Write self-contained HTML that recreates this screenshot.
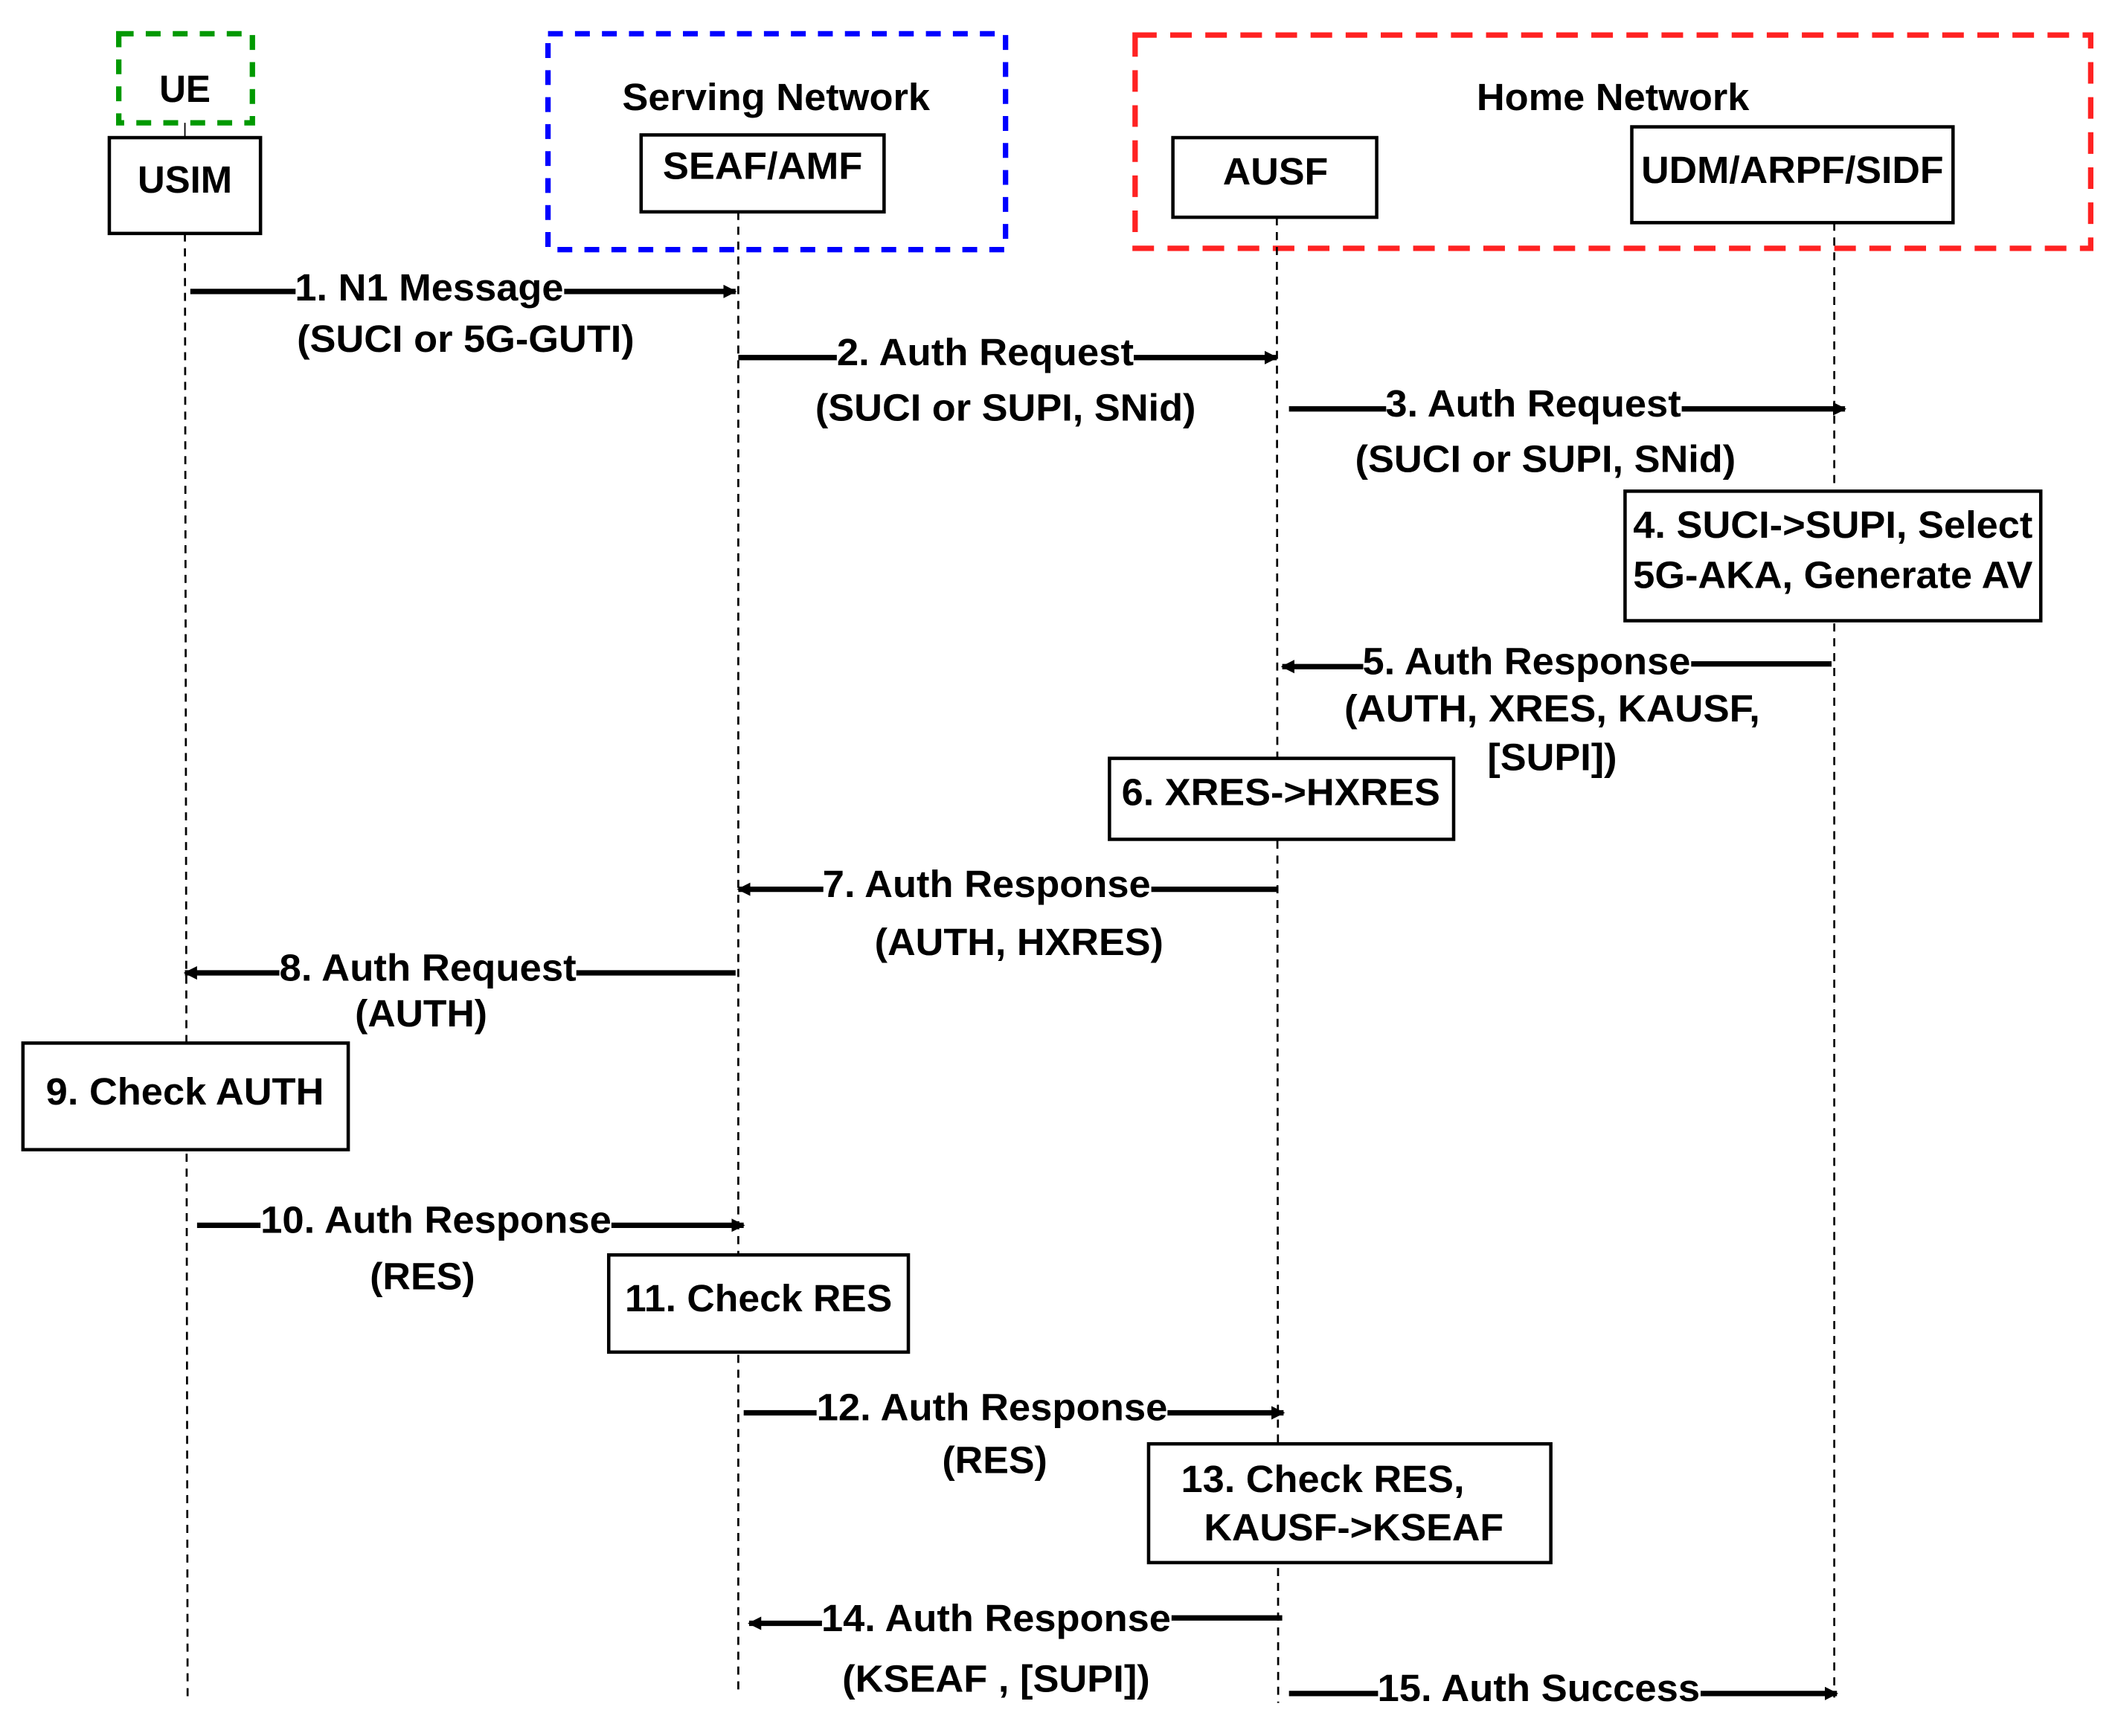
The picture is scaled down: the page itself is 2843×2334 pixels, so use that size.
<!DOCTYPE html>
<html><head><meta charset="utf-8"><style>
html,body{margin:0;padding:0;background:#fff;}
svg{display:block;}
text{font-family:"Liberation Sans",Arial,sans-serif;font-weight:bold;font-size:28px;fill:#000;dominant-baseline:central;text-anchor:middle;}
</style></head><body>
<svg width="2843" height="2334" viewBox="0 0 1567 1286.5" preserveAspectRatio="none" xmlns="http://www.w3.org/2000/svg">
<defs>
<marker id="a" markerWidth="10" markerHeight="10" refX="9" refY="5" orient="auto" markerUnits="userSpaceOnUse">
<path d="M0,0 L10,5 L0,10 z" fill="#000"/></marker>
</defs>
<rect width="1567" height="1287" fill="#fff"/>
<rect x="88" y="25" width="99" height="66" fill="none" stroke="#009900" stroke-width="4" stroke-dasharray="11,9"/>
<rect x="406" y="25" width="339" height="160" fill="none" stroke="#0000ff" stroke-width="4" stroke-dasharray="11,9"/>
<rect x="841" y="26" width="708" height="158" fill="none" stroke="#ff2222" stroke-width="4" stroke-dasharray="16,10"/>
<text x="137" y="66" textLength="38" lengthAdjust="spacingAndGlyphs">UE</text>
<text x="575" y="72" textLength="228" lengthAdjust="spacingAndGlyphs">Serving Network</text>
<text x="1195" y="72" textLength="202" lengthAdjust="spacingAndGlyphs">Home Network</text>
<line x1="137" y1="91" x2="137" y2="102" stroke="#000" stroke-width="1"/>
<g stroke="#000" stroke-width="1.5" stroke-dasharray="6,5" fill="none">
<line x1="137" y1="173" x2="139" y2="1258"/>
<line x1="547" y1="157" x2="547" y2="1255"/>
<line x1="946" y1="161" x2="947" y2="1262"/>
<line x1="1359" y1="165" x2="1359" y2="1258"/>
</g>
<g fill="#fff" stroke="#000" stroke-width="2.5">
<rect x="81" y="102" width="112" height="71"/>
<rect x="475" y="100" width="180" height="57"/>
<rect x="869" y="102" width="151" height="59"/>
<rect x="1209" y="94" width="238" height="71"/>
</g>
<text x="137" y="133" textLength="70" lengthAdjust="spacingAndGlyphs">USIM</text>
<text x="565" y="123" textLength="148" lengthAdjust="spacingAndGlyphs">SEAF/AMF</text>
<text x="945" y="127" textLength="78" lengthAdjust="spacingAndGlyphs">AUSF</text>
<text x="1328" y="126" textLength="224" lengthAdjust="spacingAndGlyphs">UDM/ARPF/SIDF</text>
<g stroke="#000" stroke-width="4" fill="none">
<line x1="141" y1="216" x2="219" y2="216"/><line x1="418" y1="216" x2="545" y2="216" marker-end="url(#a)"/>
<line x1="547" y1="265" x2="620" y2="265"/><line x1="840" y1="265" x2="946" y2="265" marker-end="url(#a)"/>
<line x1="955" y1="303" x2="1027" y2="303"/><line x1="1246" y1="303" x2="1367" y2="303" marker-end="url(#a)"/>
<line x1="1357" y1="492" x2="1253" y2="492"/><line x1="1010" y1="494" x2="950" y2="494" marker-end="url(#a)"/>
<line x1="946" y1="659" x2="853" y2="659"/><line x1="610" y1="659" x2="547" y2="659" marker-end="url(#a)"/>
<line x1="545" y1="721" x2="427" y2="721"/><line x1="207" y1="721" x2="137" y2="721" marker-end="url(#a)"/>
<line x1="146" y1="908" x2="193" y2="908"/><line x1="453" y1="908" x2="551" y2="908" marker-end="url(#a)"/>
<line x1="551" y1="1047" x2="605" y2="1047"/><line x1="865" y1="1047" x2="951" y2="1047" marker-end="url(#a)"/>
<line x1="950" y1="1199" x2="868" y2="1199"/><line x1="609" y1="1203" x2="555" y2="1203" marker-end="url(#a)"/>
<line x1="955" y1="1255" x2="1021" y2="1255"/><line x1="1260" y1="1255" x2="1361" y2="1255" marker-end="url(#a)"/>
</g>
<g fill="#fff" stroke="#000" stroke-width="2.5">
<rect x="1204" y="364" width="308" height="96"/>
<rect x="822" y="562" width="255" height="60"/>
<rect x="17" y="773" width="241" height="79"/>
<rect x="451" y="930" width="222" height="72"/>
<rect x="851" y="1070" width="298" height="88"/>
</g>
<text x="318" y="213" textLength="199" lengthAdjust="spacingAndGlyphs">1. N1 Message</text>
<text x="345" y="251" textLength="250" lengthAdjust="spacingAndGlyphs">(SUCI or 5G-GUTI)</text>
<text x="730" y="261" textLength="220" lengthAdjust="spacingAndGlyphs">2. Auth Request</text>
<text x="745" y="302" textLength="282" lengthAdjust="spacingAndGlyphs">(SUCI or SUPI, SNid)</text>
<text x="1136" y="299" textLength="219" lengthAdjust="spacingAndGlyphs">3. Auth Request</text>
<text x="1145" y="340" textLength="282" lengthAdjust="spacingAndGlyphs">(SUCI or SUPI, SNid)</text>
<text x="1358" y="389" textLength="296" lengthAdjust="spacingAndGlyphs">4. SUCI-&gt;SUPI, Select</text>
<text x="1358" y="426" textLength="296" lengthAdjust="spacingAndGlyphs">5G-AKA, Generate AV</text>
<text x="1131" y="490" textLength="243" lengthAdjust="spacingAndGlyphs">5. Auth Response</text>
<text x="1150" y="525" textLength="308" lengthAdjust="spacingAndGlyphs">(AUTH, XRES, KAUSF,</text>
<text x="1150" y="561" textLength="96" lengthAdjust="spacingAndGlyphs">[SUPI])</text>
<text x="949" y="587" textLength="236" lengthAdjust="spacingAndGlyphs">6. XRES-&gt;HXRES</text>
<text x="731" y="655" textLength="243" lengthAdjust="spacingAndGlyphs">7. Auth Response</text>
<text x="755" y="698" textLength="214" lengthAdjust="spacingAndGlyphs">(AUTH, HXRES)</text>
<text x="317" y="717" textLength="220" lengthAdjust="spacingAndGlyphs">8. Auth Request</text>
<text x="312" y="751" textLength="98" lengthAdjust="spacingAndGlyphs">(AUTH)</text>
<text x="137" y="809" textLength="206" lengthAdjust="spacingAndGlyphs">9. Check AUTH</text>
<text x="323" y="904" textLength="260" lengthAdjust="spacingAndGlyphs">10. Auth Response</text>
<text x="313" y="946" textLength="78" lengthAdjust="spacingAndGlyphs">(RES)</text>
<text x="562" y="962" textLength="198" lengthAdjust="spacingAndGlyphs">11. Check RES</text>
<text x="735" y="1043" textLength="260" lengthAdjust="spacingAndGlyphs">12. Auth Response</text>
<text x="737" y="1082" textLength="78" lengthAdjust="spacingAndGlyphs">(RES)</text>
<text x="980" y="1096" textLength="210" lengthAdjust="spacingAndGlyphs">13. Check RES,</text>
<text x="1003" y="1132" textLength="222" lengthAdjust="spacingAndGlyphs">KAUSF-&gt;KSEAF</text>
<text x="738" y="1199" textLength="259" lengthAdjust="spacingAndGlyphs">14. Auth Response</text>
<text x="738" y="1244" textLength="228" lengthAdjust="spacingAndGlyphs">(KSEAF , [SUPI])</text>
<text x="1140" y="1251" textLength="239" lengthAdjust="spacingAndGlyphs">15. Auth Success</text>
</svg>
</body></html>
